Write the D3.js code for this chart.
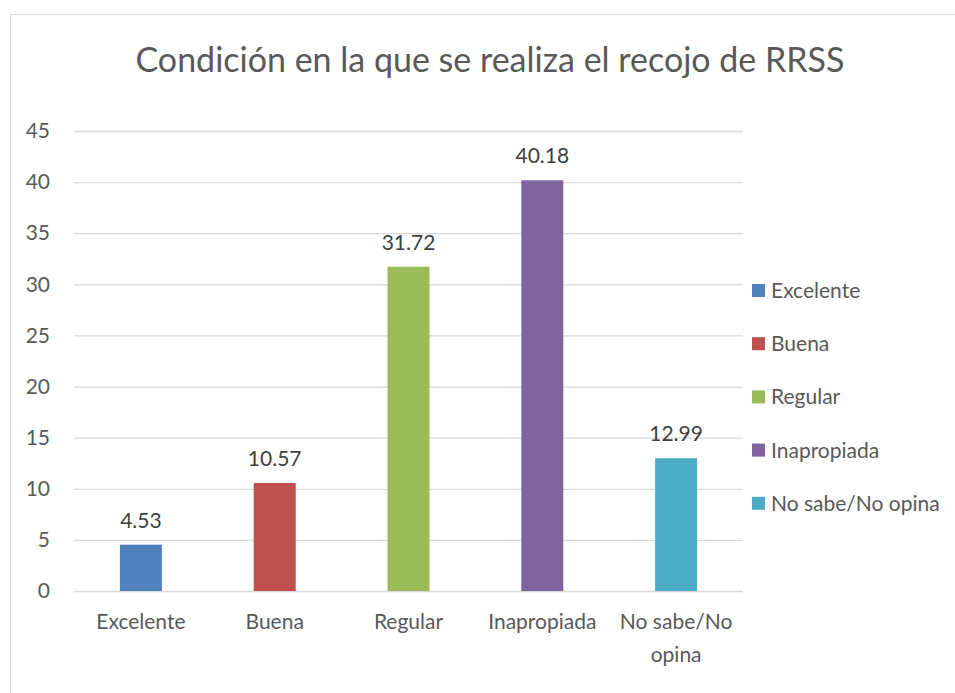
<!DOCTYPE html>
<html>
<head>
<meta charset="utf-8">
<script src="https://cdn.jsdelivr.net/npm/d3@7"></script>
<style>
  body { margin: 0; background: #fff; }
  text { font-family: Lato, "Open Sans", sans-serif; }
</style>
</head>
<body>
<svg id="chart" width="955" height="693"></svg>
<script>
const categories = ["Excelente", "Buena", "Regular", "Inapropiada", "No sabe/No opina"];
const values = [4.53, 10.57, 31.72, 40.18, 12.99];
const colors = ["#4f81bd", "#c0504d", "#9bbb59", "#8064a2", "#4bacc6"];
const yTicks = [0, 5, 10, 15, 20, 25, 30, 35, 40, 45];
const title = "Condición en la que se realiza el recojo de RRSS";

const svg = d3.select("#chart");

// chart frame
svg.append("rect")
  .attr("x", 10.5).attr("y", 14.5)
  .attr("width", 960).attr("height", 690)
  .attr("fill", "#fff")
  .attr("stroke", "#d9d9d9");

const plot = { left: 74, right: 743, top: 131, bottom: 591 };

const x = d3.scaleBand()
  .domain(categories)
  .range([plot.left, plot.right]);

const y = d3.scaleLinear()
  .domain([0, 45])
  .range([plot.bottom, plot.top]);

const barWidth = 42;
const fs = 21;

/** Grid + y axis
------------------------------------------------------------*/
const yAxis = svg.append("g")
  .attr("transform", `translate(${plot.left},0)`)
  .call(d3.axisLeft(y).tickValues(yTicks).tickSize(-(plot.right - plot.left)).tickPadding(24));

yAxis.select(".domain").remove();
yAxis.selectAll("line").attr("stroke", "#d9d9d9").attr("stroke-width", 1.3);
yAxis.selectAll("text")
  .attr("fill", "#595959")
  .attr("font-size", fs);

/** Bars
------------------------------------------------------------*/
svg.append("g")
  .selectAll("rect")
  .data(values)
  .enter().append("rect")
  .attr("x", (d, i) => x(categories[i]) + x.bandwidth() / 2 - barWidth / 2)
  .attr("y", d => y(d))
  .attr("width", barWidth)
  .attr("height", d => y(0) - y(d))
  .attr("fill", (d, i) => colors[i]);

// value labels
svg.append("g")
  .selectAll("text")
  .data(values)
  .enter().append("text")
  .attr("x", (d, i) => x(categories[i]) + x.bandwidth() / 2)
  .attr("y", d => y(d) - 17)
  .attr("text-anchor", "middle")
  .attr("fill", "#404040")
  .attr("font-size", fs)
  .text(d => d.toFixed(2));

/** X axis labels
------------------------------------------------------------*/
const xLabels = svg.append("g")
  .selectAll("text")
  .data(categories)
  .enter().append("text")
  .attr("text-anchor", "middle")
  .attr("fill", "#595959")
  .attr("font-size", fs)
  .attr("transform", d => `translate(${x(d) + x.bandwidth() / 2},${plot.bottom + 38})`);

xLabels.each(function (d) {
  const lines = d === "No sabe/No opina" ? ["No sabe/No", "opina"] : [d];
  lines.forEach((l, i) => {
    d3.select(this).append("tspan")
      .attr("x", 0)
      .attr("dy", i === 0 ? 0 : 33)
      .text(l);
  });
});

/** Legend
------------------------------------------------------------*/
const legend = svg.append("g")
  .selectAll("g")
  .data(categories)
  .enter().append("g")
  .attr("transform", (d, i) => `translate(752,${291 + i * 53.2})`);

legend.append("rect")
  .attr("x", 0).attr("y", -7)
  .attr("width", 13).attr("height", 13)
  .attr("fill", (d, i) => colors[i]);

legend.append("text")
  .attr("x", 19)
  .attr("y", 7)
  .attr("fill", "#595959")
  .attr("font-size", fs)
  .text(d => d);

/** Title
------------------------------------------------------------*/
svg.append("text")
  .attr("x", 490)
  .attr("y", 72)
  .attr("text-anchor", "middle")
  .attr("fill", "#595959")
  .attr("font-size", 34)
  .text(title);
</script>
</body>
</html>
